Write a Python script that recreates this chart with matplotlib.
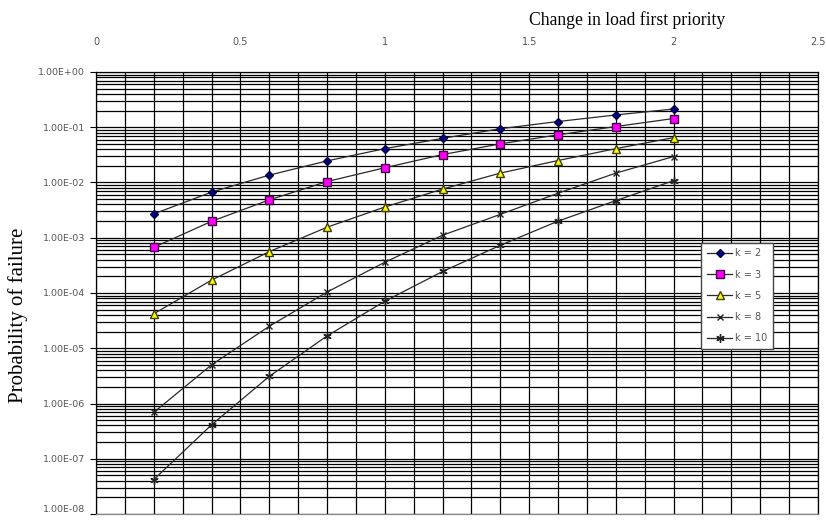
import numpy as np
import matplotlib
matplotlib.use('Agg')
import matplotlib.pyplot as plt
from matplotlib.ticker import FixedLocator, LogLocator, FuncFormatter, NullFormatter

# change in load (first priority)
load = [0.2, 0.4, 0.6, 0.8, 1.0, 1.2, 1.4, 1.6, 1.8, 2.0]

p_k2 = [2.7e-3, 6.7e-3, 1.36e-2, 2.46e-2, 4.1e-2, 6.3e-2, 9.4e-2, 0.127, 0.167, 0.214]
p_k3 = [6.7e-4, 1.98e-3, 4.85e-3, 1.04e-2, 1.85e-2, 3.2e-2, 5.0e-2, 7.3e-2, 0.103, 0.144]
p_k5 = [4.2e-5, 1.71e-4, 5.6e-4, 1.55e-3, 3.6e-3, 7.6e-3, 1.48e-2, 2.5e-2, 4.1e-2, 6.5e-2]
p_k8 = [6.9e-7, 5.0e-6, 2.5e-5, 1.04e-4, 3.6e-4, 1.11e-3, 2.65e-3, 6.4e-3, 1.48e-2, 2.95e-2]
p_k10 = [4.2e-8, 4.1e-7, 3.1e-6, 1.67e-5, 7.1e-5, 2.45e-4, 7.3e-4, 2.0e-3, 4.7e-3, 1.08e-2]

x_ticks = [0, 0.5, 1, 1.5, 2, 2.5]
y_ticks = [1e0, 1e-1, 1e-2, 1e-3, 1e-4, 1e-5, 1e-6, 1e-7, 1e-8]

series = [
    ('k = 2', p_k2, dict(marker='D', ms=4.5, mfc='#000080', mec='#000040')),
    ('k = 3', p_k3, dict(marker='s', ms=6, mfc='#ff00ff', mec='#400040')),
    ('k = 5', p_k5, dict(marker='^', ms=6, mfc='#ffff00', mec='#404000')),
    ('k = 8', p_k8, dict(marker='x', ms=5, mec='#222222', mew=1.0)),
    ('k = 10', p_k10, dict(marker=(6, 2, 0), ms=6, mec='#222222', mew=1.0)),
]

fig = plt.figure(figsize=(8.26, 5.22), dpi=100)
ax = fig.add_axes([96 / 826, 1 - 514 / 522, (818 - 96) / 826, (514 - 72) / 522])

for label, vals, style in series:
    ax.plot(load, vals, color='#2a2a2a', lw=0.9, label=label, **style)

ax.set_yscale('log')
ax.set_ylim(1e-8, 1)
ax.set_xlim(0, 2.5)

ax.xaxis.set_major_locator(FixedLocator(x_ticks))
ax.xaxis.set_minor_locator(FixedLocator(np.arange(0, 2.51, 0.1)))
ax.yaxis.set_major_locator(FixedLocator(y_ticks))
ax.yaxis.set_minor_locator(LogLocator(base=10, subs=np.arange(2, 10), numticks=20))
ax.yaxis.set_minor_formatter(NullFormatter())
ax.yaxis.set_major_formatter(FuncFormatter(lambda v, pos: f'{v:.2E}'))
ax.xaxis.set_major_formatter(FuncFormatter(lambda v, pos: f'{v:g}'))

ax.xaxis.tick_top()
ax.tick_params(axis='x', which='both', length=0, labelsize=7, labelcolor='#555555', pad=18)
ax.tick_params(axis='y', which='major', length=4, width=0.8, labelsize=6.8, labelcolor='#555555', pad=4)
ax.tick_params(axis='y', which='minor', length=0)

ax.grid(True, which='both', axis='both', color='black', lw=0.9)
for s in ax.spines.values():
    s.set_color('black')
    s.set_linewidth(0.9)
ax.spines['bottom'].set_color('#888888')

# lowest label sits at the figure edge; nudge it up so it stays whole
ax.get_yticklabels()[-1].set_verticalalignment('bottom')

leg = ax.legend(loc='upper left', bbox_to_anchor=(0.838, 0.614), fontsize=7,
                frameon=True, fancybox=False, edgecolor='#444444', framealpha=1,
                labelspacing=1.15, handlelength=2.6, handletextpad=0.3,
                borderpad=0.6, borderaxespad=0)
for t in leg.get_texts():
    t.set_color('#555555')

fig.text(627 / 826, 1 - 20 / 522, 'Change in load first priority', ha='center', va='center',
         family='Liberation Serif', fontsize=12.7)
fig.text(18 / 826, 1 - 315 / 522, 'Probability of failure', ha='center', va='center',
         rotation=90, family='Liberation Serif', fontsize=15)

fig.savefig('out.png', dpi=100)
